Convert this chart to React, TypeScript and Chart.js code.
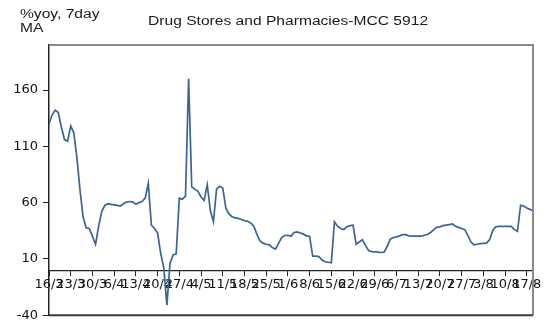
import React, { useEffect, useRef } from "react";
import { Chart, registerables } from "chart.js";

Chart.register(...registerables);

const chartTitle = "Drug Stores and Pharmacies-MCC 5912";
const unitLine1 = "%yoy, 7day";
const unitLine2 = "MA";

// weekly tick labels (D/M), one every 7 days starting 16/3
const tickLabels = [
  "16/3", "23/3", "30/3", "6/4", "13/4", "20/4", "27/4", "4/5", "11/5", "18/5",
  "25/5", "1/6", "8/6", "15/6", "22/6", "29/6", "6/7", "13/7", "20/7", "27/7",
  "3/8", "10/8", "17/8",
];

// daily values, %yoy 7-day moving average (day 0 = 16/3)
const values = [
  130, 138, 142, 140, 127, 116, 114.5, 128, 122, 100,
  71, 47, 37.5, 37, 30, 23, 39, 52, 57.5, 59,
  58.5, 58, 57.5, 57, 59, 60.5, 61, 60.5, 58.5, 60,
  61, 64, 77, 40, 37, 33, 15, 2, -31, 6,
  13.5, 14.5, 64, 63, 66, 170, 74, 72, 70, 65,
  62, 76, 53, 43, 72, 74.5, 73, 55, 50, 47.5,
  46.5, 46, 45, 44, 43.5, 42, 39, 32, 26, 24,
  23, 22.5, 20, 18.7, 24, 29, 30.8, 31, 30.2, 33.5,
  34, 33, 32, 30.5, 30, 12.5, 12.5, 12, 9, 7.5,
  7, 6.5, 43, 39, 37, 36, 38.5, 39.5, 40, 23,
  25, 27, 22, 17.5, 16.5, 16.3, 16, 15.7, 16, 21,
  27.5, 29, 29.5, 30.5, 31.5, 31.5, 30.5, 30.2, 30.2, 30.2,
  30.2, 31, 31.7, 33.5, 36, 38, 38.5, 39.5, 40, 40.5,
  41, 39, 38, 37, 36, 31, 25, 22.5, 23, 23.5,
  23.8, 24, 27, 35, 38.5, 38.9, 38.9, 38.9, 38.9, 38.9,
  36, 34.5, 57.7, 57, 55.3, 54, 52.5,
];

const yTicks = [-40, 10, 60, 110, 160];
const yMin = -40;
const yMax = 200;
const tickStep = 7;

export default function App() {
  const canvasRef = useRef<HTMLCanvasElement | null>(null);

  useEffect(() => {
    const canvas = canvasRef.current;
    if (!canvas) return;

    const framePlugin = {
      id: "frame",
      afterDraw(chart: any) {
        const ctx = chart.ctx as CanvasRenderingContext2D;
        const area = chart.chartArea;
        ctx.save();
        ctx.lineWidth = 2;
        ctx.strokeStyle = "#8a8a8a";
        ctx.beginPath();
        ctx.moveTo(area.left, area.top);
        ctx.lineTo(area.right, area.top);
        ctx.lineTo(area.right, area.bottom);
        ctx.stroke();
        ctx.strokeStyle = "#3a3a3a";
        ctx.beginPath();
        ctx.moveTo(area.left, area.bottom);
        ctx.lineTo(area.right, area.bottom);
        ctx.stroke();

        ctx.fillStyle = "#1a1a1a";
        ctx.textBaseline = "alphabetic";
        ctx.textAlign = "left";
        ctx.font = "12px 'Liberation Sans', Arial, sans-serif";
        const sx = 1.3;
        const put = (text: string, x: number, y: number) => {
          ctx.save();
          ctx.translate(x, y);
          ctx.scale(sx, 1);
          ctx.fillText(text, 0, 0);
          ctx.restore();
        };
        put(unitLine1, 20, 18);
        put(unitLine2, 20, 32);
        put(chartTitle, 148, 25);
        ctx.restore();
      },
    };

    const chart = new Chart(canvas, {
      type: "line",
      data: {
        datasets: [
          {
            data: values.map((v, i) => ({ x: i, y: v })),
            borderColor: "#3c6494",
            borderWidth: 1.7,
            pointRadius: 0,
            tension: 0,
            fill: false,
          },
        ],
      },
      options: {
        responsive: false,
        animation: false,
        layout: { padding: { left: 0, top: 45, right: 17, bottom: 3 } },
        plugins: {
          legend: { display: false },
          tooltip: { enabled: false },
          title: { display: false },
        },
        scales: {
          x: {
            type: "linear",
            position: { y: 0 } as any,
            min: 0,
            max: values.length - 1,
            afterBuildTicks: (scale: any) => {
              scale.ticks = tickLabels.map((_, i) => ({ value: i * tickStep }));
            },
            grid: { drawOnChartArea: false, drawTicks: true, tickLength: 5, color: "#222" },
            border: { display: true, color: "#222", width: 1.2 },
            ticks: {
              autoSkip: false,
              maxRotation: 0,
              minRotation: 0,
              padding: 2,
              color: "#111",
              font: { family: "'DejaVu Sans', sans-serif", size: 13 },
              callback: (v: any) => tickLabels[Math.round(Number(v) / tickStep)],
            },
          },
          y: {
            type: "linear",
            min: yMin,
            max: yMax,
            afterBuildTicks: (scale: any) => {
              scale.ticks = yTicks.map((v) => ({ value: v }));
            },
            afterFit: (scale: any) => {
              scale.width = 49;
            },
            grid: { drawOnChartArea: false, drawTicks: true, tickLength: 6, color: "#222" },
            border: { display: true, color: "#222", width: 1.5 },
            ticks: {
              padding: 5,
              color: "#111",
              font: { family: "'DejaVu Sans', sans-serif", size: 13 },
            },
          },
        },
      },
      plugins: [framePlugin],
    });

    return () => {
      chart.destroy();
    };
  }, []);

  return (
    <div style={{ position: "absolute", left: 0, top: 0, width: 550, height: 328, background: "#fff" }}>
      <canvas ref={canvasRef} width={550} height={328} style={{ display: "block" }} />
    </div>
  );
}
